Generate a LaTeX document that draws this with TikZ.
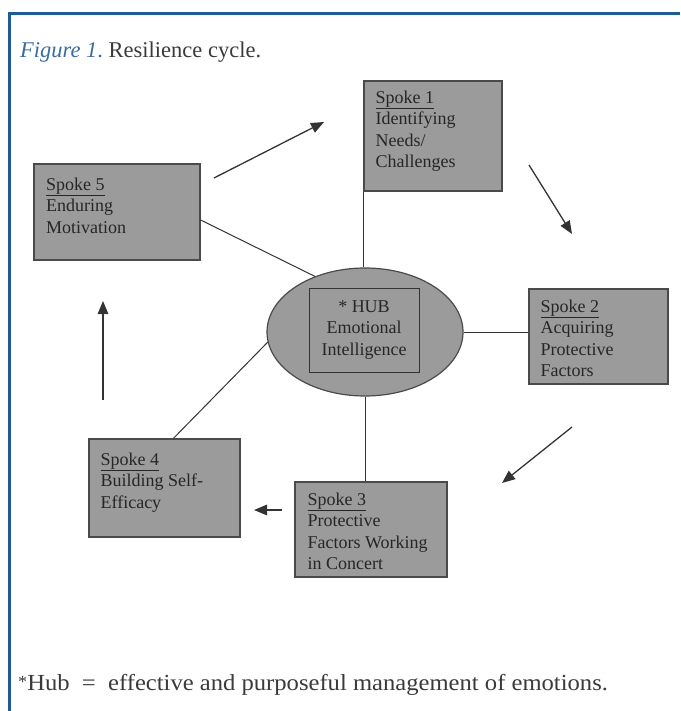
\documentclass[tikz,border=0pt]{standalone}
\usepackage{fontspec}
\setmainfont{Liberation Serif}
\newfontfamily\widefont{Liberation Serif}[FakeStretch=1.07]
\usetikzlibrary{shapes.geometric,arrows.meta,calc}

\definecolor{framecol}{HTML}{1D5D94}
\definecolor{capblue}{HTML}{3C6C9C}
\definecolor{inkgray}{HTML}{3A3A3A}
\definecolor{boxfill}{HTML}{9B9B9B}
\definecolor{boxline}{HTML}{4A4A4A}

\tikzset{
  spokebox/.style={draw=boxline, fill=boxfill, line width=1.2pt, rectangle, inner sep=0pt},
  spoketext/.style={anchor=north west, inner sep=0pt, align=left, text=black!85,
    font=\fontsize{18}{21.5}\selectfont},
  hubshape/.style={draw=boxline, fill=boxfill, line width=1.2pt, ellipse, inner sep=0pt,
    minimum width=196pt, minimum height=128pt},
  hubbox/.style={draw=black!80, line width=1pt, rectangle, inner sep=0pt,
    minimum width=110pt, minimum height=84pt, align=center, text=black!85,
    font=\fontsize{18}{21.5}\selectfont},
  spokeline/.style={draw=black!80, line width=1pt},
  cyclearrow/.style={draw=black!80, line width=1.3pt, -{Triangle[length=13pt,width=10.5pt]}},
  frameline/.style={draw=framecol, line width=3pt}
}

\begin{document}
\begin{tikzpicture}[x=1pt,y=-1pt]
\useasboundingbox (0,0) rectangle (680,711);

% page frame
\draw[frameline] (680,13.7) -- (9.7,13.7) -- (9.7,711);

% caption
\node[anchor=base west, inner sep=0pt, font=\fontsize{22.5}{26}\selectfont] (caption) at (20,57.3)
  {\textcolor{capblue}{\textit{Figure 1}.}\ \textcolor{inkgray}{Resilience cycle.}};

% hub
\node[hubshape] (hub) at (365,332) {};
\node[hubbox] (hubtext) at (364,330) {* HUB\\Emotional\\Intelligence};

% spoke boxes
\node[spokebox, minimum width=138pt, minimum height=110pt] (s1) at (433,136) {};
\node[spokebox, minimum width=139pt, minimum height=95pt]  (s2) at (598.5,336.5) {};
\node[spokebox, minimum width=152pt, minimum height=95pt]  (s3) at (371,529.5) {};
\node[spokebox, minimum width=151pt, minimum height=98pt]  (s4) at (164.5,488) {};
\node[spokebox, minimum width=166pt, minimum height=96pt]  (s5) at (117,212) {};

% spoke labels
\node[spoketext] (t1) at ($(s1.north west)+(12,10)$) {\underline{Spoke 1}\\Identifying\\Needs/\\Challenges};
\node[spoketext] (t2) at ($(s2.north west)+(12,11)$) {\underline{Spoke 2}\\Acquiring\\Protective\\Factors};
\node[spoketext] (t3) at ($(s3.north west)+(13,11)$) {\underline{Spoke 3}\\Protective\\Factors Working\\in Concert};
\node[spoketext] (t4) at ($(s4.north west)+(12,14)$) {\underline{Spoke 4}\\Building Self-\\Efficacy};
\node[spoketext] (t5) at ($(s5.north west)+(12.5,14)$) {\underline{Spoke 5}\\Enduring\\Motivation};

% spokes from hub to boxes
\draw[spokeline] (s1.south west) -- (s1.south west |- hub.north);
\draw[spokeline] (hub.east) -- (hub.east -| s2.west);
\draw[spokeline] (hub.south) -- (hub.south |- s3.north);
\draw[spokeline] ($(s4.north west)+(85,0)$) -- (hub.186);
\draw[spokeline] ($(s5.east)+(0,8)$) -- (hub.132);

% cycle arrows
\coordinate (a1s) at (214,178); \coordinate (a1e) at (324,122);
\coordinate (a2s) at (529,165); \coordinate (a2e) at (572,234);
\coordinate (a3s) at (572,427); \coordinate (a3e) at (502,483);
\coordinate (a4s) at (282,510); \coordinate (a4e) at (254,510);
\coordinate (a5s) at (103,400); \coordinate (a5e) at (103,301);
\draw[cyclearrow] (a1s) -- (a1e);
\draw[cyclearrow] (a2s) -- (a2e);
\draw[cyclearrow] (a3s) -- (a3e);
\draw[cyclearrow] (a4s) -- (a4e);
\draw[cyclearrow] (a5s) -- (a5e);

% footnote
\node[anchor=base west, inner sep=0pt, text=inkgray, font=\widefont\fontsize{23}{27}\selectfont] (note) at (18,690)
  {\raisebox{0.22ex}{\fontsize{17}{20}\selectfont *}Hub\ \ =\ \ effective and purposeful management of emotions.};
\end{tikzpicture}
\end{document}
